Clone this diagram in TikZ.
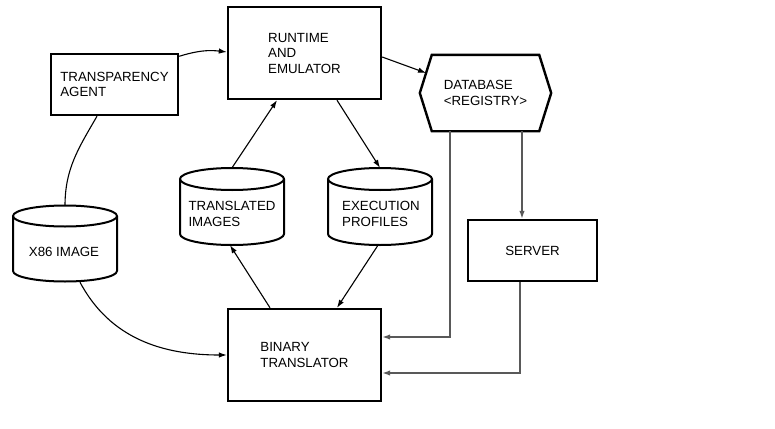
\documentclass[tikz,border=0pt]{standalone}
\usepackage{fontspec}
\setmainfont{Liberation Sans}
\usetikzlibrary{arrows.meta,calc}
\newcommand\lbl{\fontsize{13.3}{15.5}\selectfont}
\newcommand\drawcyl[5]{% cx, ytop, ybot, rx, ry
  \draw[cylline] ({#1-#4},#2) -- ({#1-#4},#3)
     arc[start angle=180,end angle=0,x radius=#4,y radius=#5] -- ({#1+#4},#2);
  \draw[cylline] (#1,#2) ellipse[x radius=#4,y radius=#5];}
\begin{document}
\begin{tikzpicture}[x=1pt,y=-1pt,
  box/.style={draw,line width=2.4pt,inner sep=0pt,align=left,font=\lbl},
  ghost/.style={inner sep=0pt},
  txt/.style={inner sep=0pt,align=left,font=\lbl},
  cylline/.style={line width=2pt},
  conn/.style={line width=1.1pt,-{Latex[length=8pt,width=5.5pt]}},
  plain/.style={line width=1.1pt},
  grayconn/.style={line width=1.4pt,draw=black!65,-{Latex[length=8pt,width=5.5pt]}}]
\useasboundingbox[fill=white] (0,0) rectangle (775,428);

% boxes
\node[box,minimum width=153pt,minimum height=92pt] (rt) at (304.5,53) {RUNTIME\\AND\\EMULATOR};
\node[box,minimum width=127pt,minimum height=61pt] (ta) at (114.5,84.5) {TRANSPARENCY\\AGENT};
\node[box,minimum width=153pt,minimum height=92pt] (bt) at (304.5,355) {BINARY\\TRANSLATOR};
\node[box,minimum width=129pt,minimum height=61pt] (sv) at (532.5,250.5) {SERVER};

% database hexagon
\node[txt,minimum width=131pt,minimum height=76pt] (db) at (485.5,93) {DATABASE\\<REGISTRY>};
\draw[line width=2.4pt,line join=miter] ($(db.north west)+(12,0)$) -- ($(db.north east)+(-12,0)$)
  -- (db.east) -- ($(db.south east)+(-12,0)$) -- ($(db.south west)+(12,0)$) -- (db.west) -- cycle;

% cylinders
\drawcyl{65}{216}{271}{52}{10.5}
\drawcyl{232}{179}{234}{52}{11}
\drawcyl{380}{179}{234}{52}{11}
\node[ghost,minimum width=104pt,minimum height=76pt] (xi) at (65,244) {};
\node[ghost,minimum width=104pt,minimum height=77pt] (ti) at (232,206.5) {};
\node[ghost,minimum width=104pt,minimum height=77pt] (ep) at (380,206.5) {};
\node[txt] (xit) at (64,252) {X86 IMAGE};
\node[txt] (tit) at (232,214) {TRANSLATED\\IMAGES};
\node[txt] (ept) at (381,214) {EXECUTION\\PROFILES};

% connectors
\draw[conn] ($(ta.north east)+(0,3.5)$) to[bend left=12] ($(rt.west)+(0,-1)$);
\draw[plain] ($(ta.south)+(-17.5,0)$) to[out=-120,in=90] (xi.north);
\draw[conn] ($(xi.south)+(15,0)$) to[out=-62,in=180] (bt.west);
\draw[conn] (ti.north) -- ($(rt.south)+(-27.5,0)$);
\draw[conn] ($(rt.south)+(32.5,0)$) -- (ep.north);
\draw[conn] ($(bt.north)+(-34.5,0)$) -- ($(ti.south)+(-2,0)$);
\draw[conn] ($(ep.south)+(-2,0)$) -- ($(bt.north)+(32.5,0)$);
\draw[conn] ($(rt.east)+(0,4)$) -- ($(db.west)+(6.3,-20)$);
\draw[grayconn] ($(db.south)+(-35.5,0)$) |- ($(bt.east)+(0,-18)$);
\draw[grayconn] ($(db.south)+(36.5,0)$) -- ($(sv.north)+(-10.5,0)$);
\draw[grayconn] ($(sv.south)+(-12.5,0)$) |- ($(bt.east)+(0,18)$);
\end{tikzpicture}
\end{document}
